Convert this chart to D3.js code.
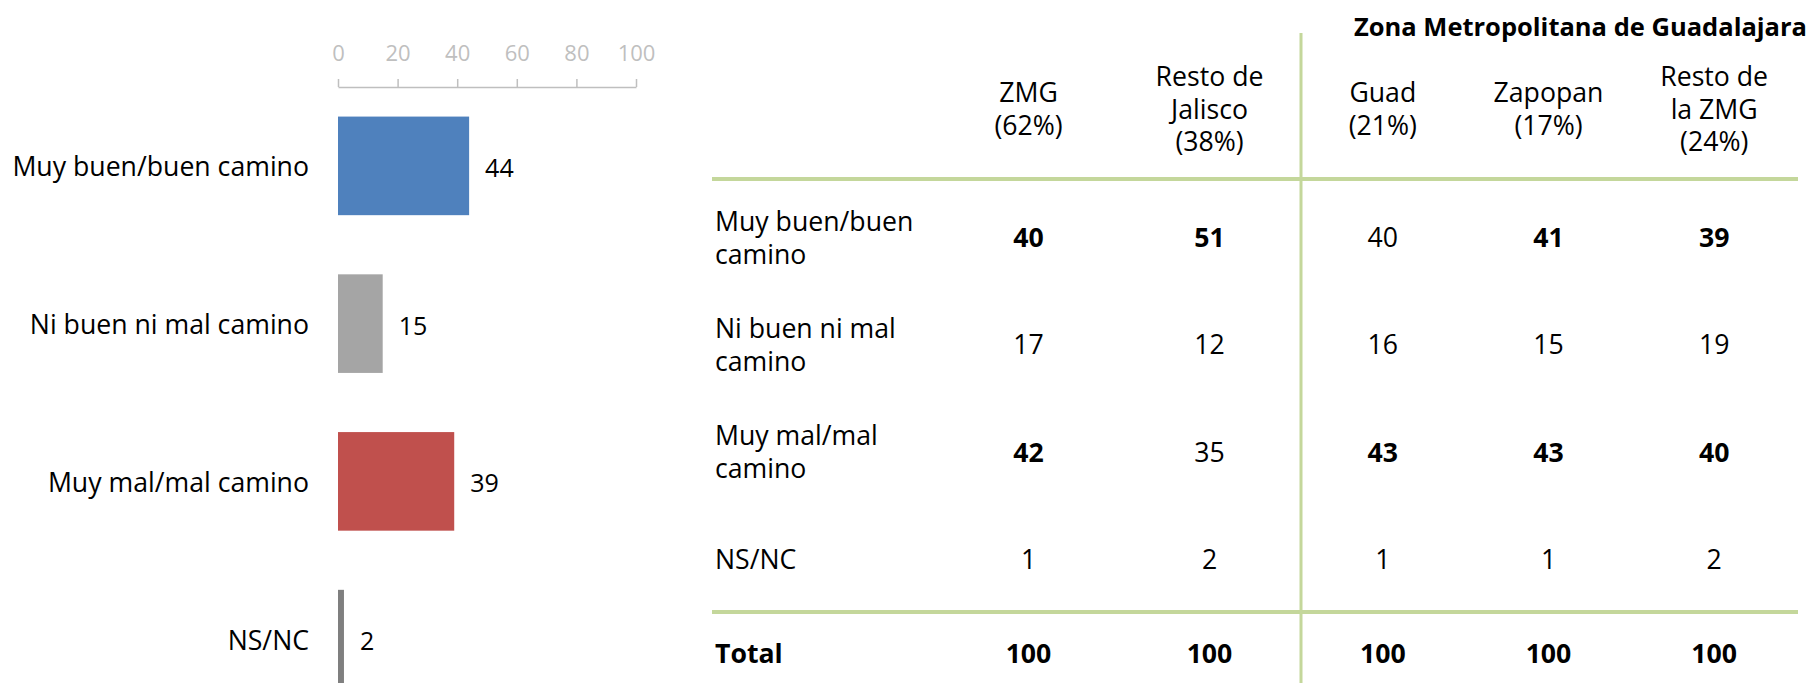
<!DOCTYPE html>
<html>
<head>
<meta charset="utf-8">
<script src="https://cdn.jsdelivr.net/npm/d3@7"></script>
<style>
  html, body { margin: 0; padding: 0; background: #fff; }
  svg { display: block; font-family: "Open Sans", "Noto Sans", sans-serif; }
</style>
</head>
<body>
<svg id="chart" width="1814" height="683"></svg>
<script>
// ---- Data ----
const categories = ["Muy buen/buen camino", "Ni buen ni mal camino", "Muy mal/mal camino", "NS/NC"];
const values = [44, 15, 39, 2];
const barColors = ["#4f81bd", "#a5a5a5", "#c0504d", "#7f7f7f"];
const tickValues = [0, 20, 40, 60, 80, 100];

const groupTitle = "Zona Metropolitana de Guadalajara";
const leftColumns = [["ZMG", "(62%)"], ["Resto de", "Jalisco", "(38%)"]];
const rightColumns = [["Guad", "(21%)"], ["Zapopan", "(17%)"], ["Resto de", "la ZMG", "(24%)"]];
const rowLabels = [["Muy buen/buen", "camino"], ["Ni buen ni mal", "camino"], ["Muy mal/mal", "camino"], ["NS/NC"]];
const totalLabel = "Total";
const colZMG = [40, 17, 42, 1];
const colRestoJalisco = [51, 12, 35, 2];
const colGuad = [40, 16, 43, 1];
const colZapopan = [41, 15, 43, 1];
const colRestoZMG = [39, 19, 40, 2];
const totals = [100, 100, 100, 100, 100];
// which cells are highlighted (bold) per column
const boldZMG = [true, false, true, false];
const boldRestoJalisco = [true, false, false, false];
const boldGuad = [false, false, true, false];
const boldZapopan = [true, false, true, false];
const boldRestoZMG = [true, false, true, false];

// ---- Layout ----
const svg = d3.select("#chart");
const lineColor = "#c4d79b";
const fs = 26.67;

// Left bar chart
const x = d3.scaleLinear().domain([0, 100]).range([338, 636]);
const y = d3.scaleBand().domain(categories).range([87, 718]).paddingInner(0.375).paddingOuter(0.1875);

const axis = d3.axisTop(x).tickValues(tickValues).tickSize(8).tickPadding(18).tickSizeOuter(0);
const gAxis = svg.append("g").attr("transform", `translate(0,${87})`).call(axis);
gAxis.select(".domain").attr("stroke", "#bfbfbf").attr("stroke-width", 1.5);
gAxis.selectAll(".tick line").attr("stroke", "#bfbfbf").attr("stroke-width", 1.5);
gAxis.selectAll(".tick text").attr("fill", "#bfbfbf").style("font-size", "22px")
  .style("font-family", '"Open Sans", sans-serif');

svg.append("g").selectAll("rect").data(categories).join("rect")
  .attr("x", x(0))
  .attr("y", d => y(d))
  .attr("width", (d, i) => x(values[i]) - x(0))
  .attr("height", y.bandwidth())
  .attr("fill", (d, i) => barColors[i]);

svg.append("g").selectAll("text").data(categories).join("text")
  .attr("x", x(0) - 29)
  .attr("y", d => y(d) + y.bandwidth() / 2)
  .attr("text-anchor", "end")
  .attr("dominant-baseline", "central")
  .style("font-size", fs + "px")
  .attr("fill", "#000")
  .text(d => d);

svg.append("g").selectAll("text").data(categories).join("text")
  .attr("x", (d, i) => x(values[i]) + 16)
  .attr("y", d => y(d) + y.bandwidth() / 2 + 1)
  .attr("dominant-baseline", "central")
  .style("font-size", "25px")
  .attr("fill", "#000")
  .text((d, i) => values[i]);

// Right table
const leftCols = d3.scaleBand().domain(d3.range(leftColumns.length)).range([938, 1300]);
const rightCols = d3.scaleBand().domain(d3.range(rightColumns.length)).range([1300, 1797]);
const columns = [
  { head: leftColumns[0], vals: colZMG, bold: boldZMG, cx: leftCols(0) + leftCols.bandwidth() / 2 },
  { head: leftColumns[1], vals: colRestoJalisco, bold: boldRestoJalisco, cx: leftCols(1) + leftCols.bandwidth() / 2 },
  { head: rightColumns[0], vals: colGuad, bold: boldGuad, cx: rightCols(0) + rightCols.bandwidth() / 2 },
  { head: rightColumns[1], vals: colZapopan, bold: boldZapopan, cx: rightCols(1) + rightCols.bandwidth() / 2 },
  { head: rightColumns[2], vals: colRestoZMG, bold: boldRestoZMG, cx: rightCols(2) + rightCols.bandwidth() / 2 }
];
const rows = d3.scaleBand().domain(d3.range(rowLabels.length)).range([183, 612]);
const rowC = i => rows(i) + rows.bandwidth() / 2;
const lh = 33;
const tableLeft = 712, tableRight = 1798, headerLineY = 179, totalLineY = 612, totalY = 652, headerCY = 108;

// lines
svg.append("line").attr("x1", 1301).attr("x2", 1301).attr("y1", 33).attr("y2", 683)
  .attr("stroke", lineColor).attr("stroke-width", 3);
svg.append("line").attr("x1", tableLeft).attr("x2", tableRight).attr("y1", headerLineY).attr("y2", headerLineY)
  .attr("stroke", lineColor).attr("stroke-width", 4);
svg.append("line").attr("x1", tableLeft).attr("x2", tableRight).attr("y1", totalLineY).attr("y2", totalLineY)
  .attr("stroke", lineColor).attr("stroke-width", 4);

// group title
svg.append("text").attr("x", 1807).attr("y", 26)
  .attr("text-anchor", "end").attr("dominant-baseline", "central")
  .style("font-size", "25.5px").style("font-weight", "bold").attr("fill", "#000")
  .text(groupTitle);

// headers (one text per line)
columns.forEach(c => {
  const n = c.head.length;
  svg.append("g").selectAll("text").data(c.head).join("text")
    .attr("x", c.cx)
    .attr("y", (line, k) => headerCY + (k - (n - 1) / 2) * 32.5)
    .attr("text-anchor", "middle").attr("dominant-baseline", "central")
    .style("font-size", fs + "px").attr("fill", "#000")
    .text(line => line);
});

// row labels
rowLabels.forEach((lab, i) => {
  const n = lab.length;
  svg.append("g").selectAll("text").data(lab).join("text")
    .attr("x", 715)
    .attr("y", (line, k) => rowC(i) + (k - (n - 1) / 2) * lh)
    .attr("dominant-baseline", "central")
    .style("font-size", fs + "px").attr("fill", "#000")
    .text(line => line);
});

// cells
columns.forEach(c => {
  svg.append("g").selectAll("text").data(c.vals).join("text")
    .attr("x", c.cx).attr("y", (d, i) => rowC(i))
    .attr("text-anchor", "middle").attr("dominant-baseline", "central")
    .style("font-size", fs + "px")
    .style("font-weight", (d, i) => c.bold[i] ? "bold" : "normal")
    .attr("fill", "#000")
    .text(d => d);
});

// total row
svg.append("text").attr("x", 715).attr("y", totalY).attr("dominant-baseline", "central")
  .style("font-size", fs + "px").style("font-weight", "bold").attr("fill", "#000").text(totalLabel);
svg.append("g").selectAll("text").data(totals).join("text")
  .attr("x", (d, i) => columns[i].cx).attr("y", totalY)
  .attr("text-anchor", "middle").attr("dominant-baseline", "central")
  .style("font-size", fs + "px").style("font-weight", "bold").attr("fill", "#000")
  .text(d => d);
</script>
</body>
</html>
